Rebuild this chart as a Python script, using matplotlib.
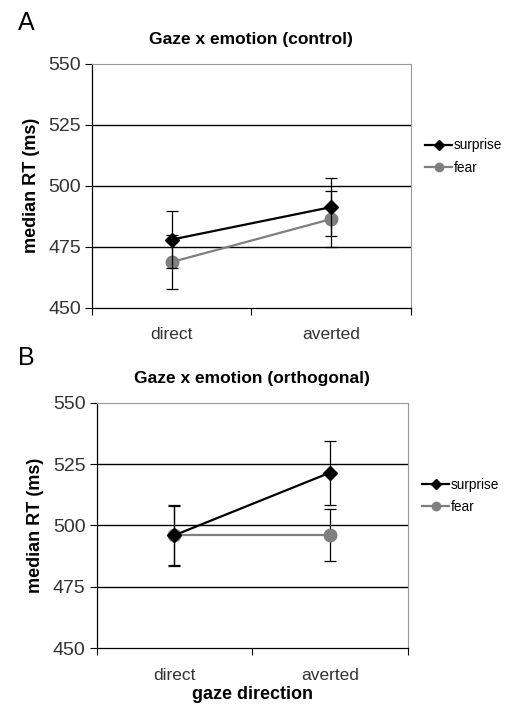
import matplotlib
matplotlib.use("Agg")
import matplotlib.pyplot as plt
from matplotlib.lines import Line2D

plt.rcParams['font.family'] = ['Liberation Sans', 'DejaVu Sans']

categories = ['direct', 'averted']
series = ['surprise', 'fear']

# panel A (control)
a_surprise = [478, 491.3]
a_surprise_err = [11.7, 12.0]
a_fear = [468.8, 486.4]
a_fear_err = [11.0, 11.4]

# panel B (orthogonal)
b_surprise = [496, 521.5]
b_surprise_err = [12.5, 13.0]
b_fear = [496, 496]
b_fear_err = [12.0, 10.6]

yticks = [450, 475, 500, 525, 550]
gray = '#7f7f7f'


def panel(ax, title, surprise, s_err, fear, f_err, xlabel=None):
    x = [0.5, 1.5]
    ax.errorbar(x, surprise, yerr=s_err, color='black', lw=1.6, marker='D',
                ms=7, ecolor='black', elinewidth=0.9, capsize=4, capthick=0.9,
                zorder=4)
    ax.errorbar(x, fear, yerr=f_err, color=gray, lw=1.6, marker='o',
                ms=9, ecolor='black', elinewidth=0.9, capsize=4, capthick=0.9,
                zorder=3)
    ax.set_xlim(0, 2)
    ax.set_ylim(450, 550)
    ax.set_yticks(yticks)
    ax.set_xticks([0, 1, 2])
    ax.set_xticklabels([])
    ax.set_xticks(x, minor=True)
    ax.set_xticklabels(categories, minor=True, fontsize=12.5, color='#333333')
    ax.tick_params(axis='x', which='minor', length=0, pad=14)
    ax.tick_params(axis='x', which='major', length=5, direction='out', width=0.8)
    ax.tick_params(axis='y', length=5, direction='out', width=0.8,
                   labelsize=14, labelcolor='#333333', pad=3)
    for v in [475, 500, 525]:
        ax.axhline(v, color='black', lw=1.0, zorder=1)
    for s in ['top', 'right']:
        ax.spines[s].set_color('#999999')
        ax.spines[s].set_linewidth(0.8)
    ax.spines['left'].set_linewidth(0.9)
    ax.spines['bottom'].set_linewidth(0.9)
    ax.set_title(title, fontsize=12.5, fontweight='bold', pad=14)
    ax.set_ylabel('median RT (ms)', fontsize=13, fontweight='bold', labelpad=6)
    if xlabel:
        ax.set_xlabel(xlabel, fontsize=13, fontweight='bold', labelpad=2)
    handles = [
        Line2D([], [], color='black', lw=1.6, marker='D', ms=5),
        Line2D([], [], color=gray, lw=1.6, marker='o', ms=6),
    ]
    ax.legend(handles, series, loc='center left', bbox_to_anchor=(1.015, 0.62),
              frameon=False, fontsize=9.8, handlelength=2.0,
              handletextpad=0.1, labelspacing=0.6, borderaxespad=0.3)


fig = plt.figure(figsize=(5.11, 7.08), dpi=100)
ax1 = fig.add_axes([0.180, 0.565, 0.624, 0.345])
ax2 = fig.add_axes([0.189, 0.0843, 0.609, 0.347])

panel(ax1, 'Gaze x emotion (control)', a_surprise, a_surprise_err, a_fear, a_fear_err)
panel(ax2, 'Gaze x emotion (orthogonal)', b_surprise, b_surprise_err, b_fear, b_fear_err,
      xlabel='gaze direction')

fig.text(0.035, 0.968, 'A', fontsize=18, va='center')
fig.text(0.035, 0.495, 'B', fontsize=18, va='center')

fig.savefig('out.png', dpi=100)
